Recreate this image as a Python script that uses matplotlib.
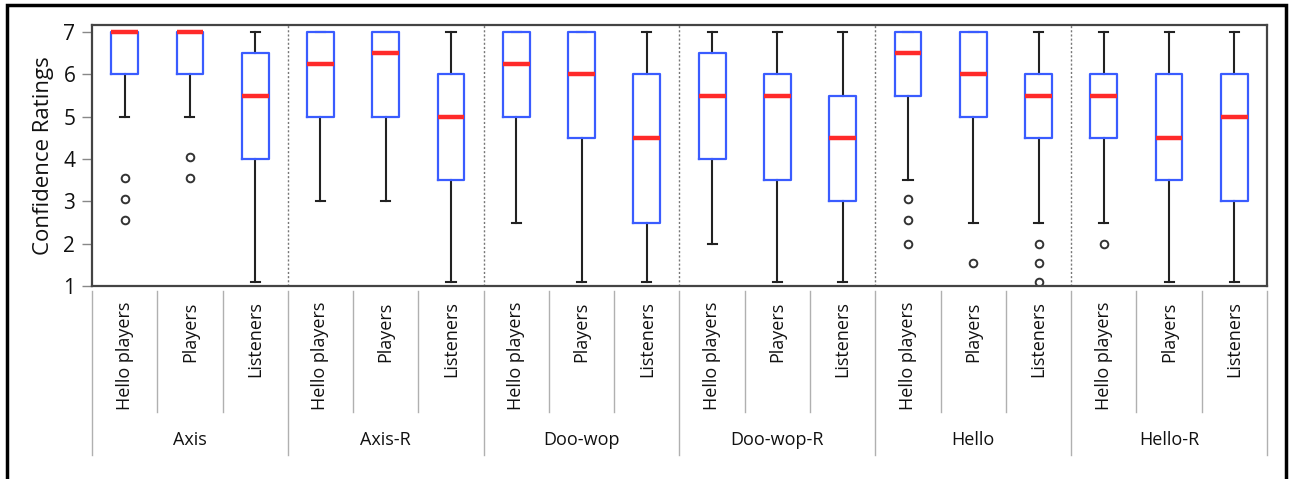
import matplotlib.pyplot as plt
import matplotlib.transforms as mtransforms
from matplotlib.patches import Rectangle

plt.rcParams['font.family'] = ['Open Sans', 'DejaVu Sans']

# --- DATA ---
songs = ["Axis", "Axis-R", "Doo-wop", "Doo-wop-R", "Hello", "Hello-R"]
groups = ["Hello players", "Players", "Listeners"]

# one entry per box, in song order, then group order
medians = [7.0, 7.0, 5.5,   6.25, 6.5, 5.0,   6.25, 6.0, 4.5,
           5.5, 5.5, 4.5,   6.5, 6.0, 5.5,    5.5, 4.5, 5.0]
q1s = [6.0, 6.0, 4.0,   5.0, 5.0, 3.5,   5.0, 4.5, 2.5,
       4.0, 3.5, 3.0,   5.5, 5.0, 4.5,   4.5, 3.5, 3.0]
q3s = [7.0, 7.0, 6.5,   7.0, 7.0, 6.0,   7.0, 7.0, 6.0,
       6.5, 6.0, 5.5,   7.0, 7.0, 6.0,   6.0, 6.0, 6.0]
whis_lo = [5.0, 5.0, 1.1,   3.0, 3.0, 1.1,   2.5, 1.1, 1.1,
           2.0, 1.1, 1.1,   3.5, 2.5, 2.5,   2.5, 1.1, 1.1]
whis_hi = [7.0] * 18
outliers = [[3.55, 3.05, 2.55], [4.05, 3.55], [],
            [], [], [],
            [], [], [],
            [], [], [],
            [3.05, 2.55, 2.0], [1.55], [2.0, 1.55, 1.1],
            [2.0], [], []]

stats = []
for i in range(len(medians)):
    stats.append(dict(med=medians[i], q1=q1s[i], q3=q3s[i],
                      whislo=whis_lo[i], whishi=whis_hi[i],
                      fliers=outliers[i]))

W, H = 1290, 479
fig = plt.figure(figsize=(W / 100, H / 100), dpi=100)
ax = fig.add_axes([92 / W, 1 - 286 / H, (1267 - 92) / W, (286 - 25) / H])

positions = list(range(1, len(stats) + 1))
ax.bxp(stats, positions=positions, widths=0.41, showfliers=True,
       boxprops=dict(color='#3a5cff', linewidth=1.6, zorder=3),
       medianprops=dict(color='#ff2a2a', linewidth=3.2, zorder=4),
       whiskerprops=dict(color='#222222', linewidth=1.5, zorder=2),
       capprops=dict(color='#222222', linewidth=1.5, zorder=2),
       capwidths=0.14,
       flierprops=dict(marker='o', markerfacecolor='none',
                       markeredgecolor='#333333', markersize=5.5,
                       markeredgewidth=1.4))

ax.set_xlim(0.5, len(stats) + 0.5)
ax.set_ylim(1, 7.17)
ax.set_yticks(range(1, 8))
ax.tick_params(axis='y', labelsize=15, length=7, width=1, color='#888888',
               pad=5, labelcolor='#111111')
ax.set_ylabel("Confidence Ratings", fontsize=16, labelpad=7, color='#111111')

for s in ax.spines.values():
    s.set_color('#444444')
    s.set_linewidth(1.6)

# dotted separators between songs
for k in range(1, len(songs)):
    ax.axvline(3 * k + 0.5, color='#777777', linestyle=(0, (1.5, 1.5)),
               linewidth=1.0)

# category labels under each box
labels = [g for _ in songs for g in groups]
ax.set_xticks(positions)
ax.set_xticklabels(labels, rotation=90, fontsize=13, va='top', color='#111111')
ax.tick_params(axis='x', length=0, pad=11)

# table-like rules below the plot
trans = mtransforms.blended_transform_factory(ax.transData, ax.transAxes)
for k in range(len(stats) + 1):
    xb = k + 0.5
    y_end = -0.648 if k % 3 == 0 else -0.483
    ax.plot([xb, xb], [-0.02, y_end], transform=trans, clip_on=False,
            color='#b0b0b0', linewidth=1.0)

for j, song in enumerate(songs):
    ax.text(3 * j + 2, -0.59, song, transform=trans, ha='center',
            va='center', fontsize=13, color='#111111')

# outer frame
fig.patches.append(Rectangle((7 / W, -0.1), (1286 - 7) / W, 1.1 - 5 / H,
                             transform=fig.transFigure, fill=False,
                             edgecolor='black', linewidth=2.5))

fig.savefig("out.png", dpi=100)
